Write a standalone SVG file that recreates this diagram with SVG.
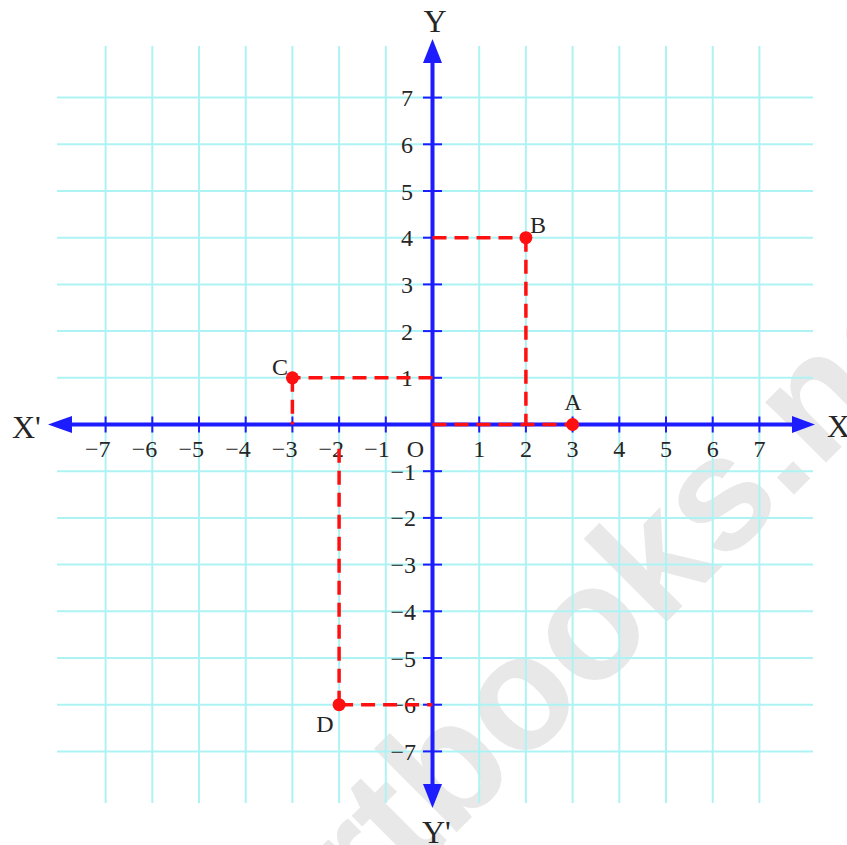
<svg xmlns="http://www.w3.org/2000/svg" width="847" height="845" viewBox="0 0 847 845">
<defs>
<style>
.grid line{stroke:#aef3f4;stroke-width:2}
.axis{stroke:#1c1cff;stroke-width:4}
.head{fill:#1c1cff}
.tick line{stroke:#1c1cff;stroke-width:2}
.num{font-family:"Liberation Serif","Times New Roman",serif;font-size:24px;fill:#262626}
.big{font-family:"Liberation Serif","Times New Roman",serif;font-size:32px;fill:#262626}
.dash{stroke:#ff1010;stroke-width:3.5;stroke-dasharray:14 8;fill:none}
.pt{fill:#ff1010}
</style>
</defs>
<rect width="847" height="845" fill="#ffffff"/>
<g id="watermark">
<text transform="translate(448.8,839.8) rotate(-45)" x="-396" font-family="Liberation Sans, Arial, sans-serif" font-weight="bold" font-size="162" fill="#e8e8e8">ncertbooks.net</text>
</g>
<g id="grid" class="grid">
<line x1="105.6" y1="46" x2="105.6" y2="803"/>
<line x1="152.3" y1="46" x2="152.3" y2="803"/>
<line x1="199" y1="46" x2="199" y2="803"/>
<line x1="245.7" y1="46" x2="245.7" y2="803"/>
<line x1="292.4" y1="46" x2="292.4" y2="803"/>
<line x1="339.1" y1="46" x2="339.1" y2="803"/>
<line x1="385.8" y1="46" x2="385.8" y2="803"/>
<line x1="479.2" y1="46" x2="479.2" y2="803"/>
<line x1="525.9" y1="46" x2="525.9" y2="803"/>
<line x1="572.6" y1="46" x2="572.6" y2="803"/>
<line x1="619.3" y1="46" x2="619.3" y2="803"/>
<line x1="666" y1="46" x2="666" y2="803"/>
<line x1="712.7" y1="46" x2="712.7" y2="803"/>
<line x1="759.4" y1="46" x2="759.4" y2="803"/>
<line x1="57" y1="97.6" x2="813" y2="97.6"/>
<line x1="57" y1="144.3" x2="813" y2="144.3"/>
<line x1="57" y1="191" x2="813" y2="191"/>
<line x1="57" y1="237.7" x2="813" y2="237.7"/>
<line x1="57" y1="284.4" x2="813" y2="284.4"/>
<line x1="57" y1="331.1" x2="813" y2="331.1"/>
<line x1="57" y1="377.8" x2="813" y2="377.8"/>
<line x1="57" y1="471.2" x2="813" y2="471.2"/>
<line x1="57" y1="517.9" x2="813" y2="517.9"/>
<line x1="57" y1="564.6" x2="813" y2="564.6"/>
<line x1="57" y1="611.3" x2="813" y2="611.3"/>
<line x1="57" y1="658" x2="813" y2="658"/>
<line x1="57" y1="704.7" x2="813" y2="704.7"/>
<line x1="57" y1="751.4" x2="813" y2="751.4"/>
</g>
<g id="axes">
<line class="axis" x1="64" y1="424.5" x2="800" y2="424.5"/>
<line class="axis" x1="432.5" y1="55" x2="432.5" y2="792"/>
<polygon class="head" points="48,424.5 72,416 72,433"/>
<polygon class="head" points="815,424.5 792,416 792,433"/>
<polygon class="head" points="432.5,39 423,63 442,63"/>
<polygon class="head" points="432.5,808 423,784 442,784"/>
<g class="tick">
<line x1="105.6" y1="416.5" x2="105.6" y2="432.5"/>
<line x1="152.3" y1="416.5" x2="152.3" y2="432.5"/>
<line x1="199" y1="416.5" x2="199" y2="432.5"/>
<line x1="245.7" y1="416.5" x2="245.7" y2="432.5"/>
<line x1="292.4" y1="416.5" x2="292.4" y2="432.5"/>
<line x1="339.1" y1="416.5" x2="339.1" y2="432.5"/>
<line x1="385.8" y1="416.5" x2="385.8" y2="432.5"/>
<line x1="479.2" y1="416.5" x2="479.2" y2="432.5"/>
<line x1="525.9" y1="416.5" x2="525.9" y2="432.5"/>
<line x1="572.6" y1="416.5" x2="572.6" y2="432.5"/>
<line x1="619.3" y1="416.5" x2="619.3" y2="432.5"/>
<line x1="666" y1="416.5" x2="666" y2="432.5"/>
<line x1="712.7" y1="416.5" x2="712.7" y2="432.5"/>
<line x1="759.4" y1="416.5" x2="759.4" y2="432.5"/>
<line x1="423" y1="97.6" x2="442" y2="97.6"/>
<line x1="423" y1="144.3" x2="442" y2="144.3"/>
<line x1="423" y1="191" x2="442" y2="191"/>
<line x1="423" y1="237.7" x2="442" y2="237.7"/>
<line x1="423" y1="284.4" x2="442" y2="284.4"/>
<line x1="423" y1="331.1" x2="442" y2="331.1"/>
<line x1="423" y1="377.8" x2="442" y2="377.8"/>
<line x1="423" y1="471.2" x2="442" y2="471.2"/>
<line x1="423" y1="517.9" x2="442" y2="517.9"/>
<line x1="423" y1="564.6" x2="442" y2="564.6"/>
<line x1="423" y1="611.3" x2="442" y2="611.3"/>
<line x1="423" y1="658" x2="442" y2="658"/>
<line x1="423" y1="704.7" x2="442" y2="704.7"/>
<line x1="423" y1="751.4" x2="442" y2="751.4"/>
</g>
<text class="big" x="12" y="438">X'</text>
<text class="big" x="827" y="437">X</text>
<text class="big" x="435" y="32" text-anchor="middle">Y</text>
<text class="big" x="422" y="843">Y'</text>
</g>
<g id="xlabels" class="num">
<text x="110.6" y="457" text-anchor="end">−7</text>
<text x="157.3" y="457" text-anchor="end">−6</text>
<text x="204" y="457" text-anchor="end">−5</text>
<text x="250.7" y="457" text-anchor="end">−4</text>
<text x="297.4" y="457" text-anchor="end">−3</text>
<text x="344.1" y="457" text-anchor="end">−2</text>
<text x="389.8" y="457" text-anchor="end">−1</text>
<text x="424" y="457" text-anchor="end">O</text>
<text x="479.2" y="457" text-anchor="middle">1</text>
<text x="525.9" y="457" text-anchor="middle">2</text>
<text x="572.6" y="457" text-anchor="middle">3</text>
<text x="619.3" y="457" text-anchor="middle">4</text>
<text x="666" y="457" text-anchor="middle">5</text>
<text x="712.7" y="457" text-anchor="middle">6</text>
<text x="759.4" y="457" text-anchor="middle">7</text>
</g>
<g id="ylabels" class="num" text-anchor="end">
<text x="413" y="106">7</text>
<text x="413" y="152.8">6</text>
<text x="413" y="199.5">5</text>
<text x="413" y="246.2">4</text>
<text x="413" y="292.9">3</text>
<text x="413" y="339.6">2</text>
<text x="413" y="386.3">1</text>
<text x="416" y="479.7">−1</text>
<text x="416" y="526.4">−2</text>
<text x="416" y="573.1">−3</text>
<text x="416" y="619.8">−4</text>
<text x="416" y="666.5">−5</text>
<text x="416" y="713.2">−6</text>
<text x="416" y="759.9">−7</text>
</g>
<g id="connectors">
<line class="dash" x1="432.5" y1="424.5" x2="572.6" y2="424.5"/>
<line class="dash" x1="432.5" y1="237.7" x2="525.9" y2="237.7"/>
<line class="dash" x1="525.9" y1="237.7" x2="525.9" y2="424.5"/>
<line class="dash" x1="432.5" y1="377.8" x2="292.4" y2="377.8"/>
<line class="dash" x1="292.4" y1="377.8" x2="292.4" y2="424.5"/>
<line class="dash" x1="339.1" y1="704.7" x2="339.1" y2="442"/>
<line class="dash" x1="339.1" y1="704.7" x2="432.5" y2="704.7"/>
</g>
<g id="A">
<circle class="pt" cx="572.6" cy="424.5" r="6.5"/>
<text class="num" x="573" y="410" text-anchor="middle">A</text>
</g>
<g id="B">
<circle class="pt" cx="525.9" cy="237.7" r="6.5"/>
<text class="num" x="530" y="233">B</text>
</g>
<g id="C">
<circle class="pt" cx="292.4" cy="377.8" r="6.5"/>
<text class="num" x="288" y="375" text-anchor="end">C</text>
</g>
<g id="D">
<circle class="pt" cx="339.1" cy="704.7" r="6.5"/>
<text class="num" x="325" y="732" text-anchor="middle">D</text>
</g>
</svg>
